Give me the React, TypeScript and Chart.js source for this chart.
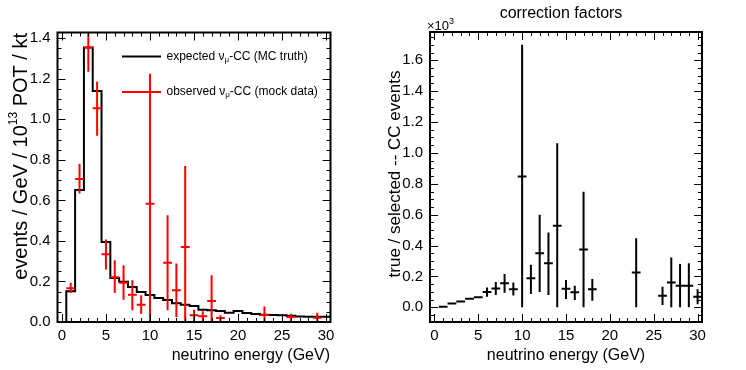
import React, { useEffect, useRef } from "react";
import { Chart, registerables } from "chart.js";
Chart.register(...registerables);

const FONT = '"Liberation Sans", Arial, Helvetica, sans-serif';

// ---------- data ----------
// expected (MC truth) histogram, bins centred on 1..30 GeV, width 1 GeV
const binCenters = [1,2,3,4,5,6,7,8,9,10,11,12,13,14,15,16,17,18,19,20,21,22,23,24,25,26,27,28,29,30];
const expectedRate = [0.152,0.651,1.354,1.14,0.395,0.217,0.198,0.173,0.148,0.133,0.119,0.108,0.092,0.085,0.079,0.061,0.058,0.054,0.046,0.054,0.044,0.040,0.036,0.034,0.033,0.031,0.027,0.026,0.026,0.026];

// observed (mock data)
const obsEnergy = [1,2,3,4,5,6,7,8,9,10,12,13,14,15,16,17,18,23,26,29];
const obsRate   = [0.167,0.705,1.354,1.054,0.334,0.221,0.194,0.134,0.085,0.583,0.292,0.156,0.370,0.033,0.028,0.104,0.020,0.035,0.025,0.021];
const obsLow    = [0.143,0.634,1.235,0.919,0.259,0.143,0.110,0.058,0.041,0.0,0.058,0.025,0.0,0.0,0.0,0.0,0.0,0.0,0.0,0.0];
const obsHigh   = [0.193,0.780,1.474,1.185,0.407,0.305,0.280,0.206,0.132,1.224,0.527,0.288,0.770,0.061,0.053,0.230,0.033,0.077,0.041,0.046];

// correction factors (x10^3)
const corrEnergy = [1,2,3,4,5,6,7,8,9,10,11,12,13,14,15,16,17,18,23,26,27,28,29,30];
const corrValue  = [0.004,0.025,0.037,0.056,0.065,0.100,0.122,0.156,0.117,0.847,0.188,0.350,0.285,0.529,0.120,0.097,0.375,0.117,0.226,0.075,0.161,0.140,0.140,0.068];
const corrLow    = [0.004,0.025,0.037,0.056,0.062,0.069,0.080,0.095,0.076,0.0,0.086,0.100,0.080,0.0,0.054,0.048,0.0,0.043,0.0,0.015,0.0,0.0,0.0,0.020];
const corrHigh   = [0.004,0.025,0.037,0.056,0.068,0.128,0.164,0.216,0.160,1.700,0.276,0.600,0.484,1.063,0.177,0.140,0.748,0.183,0.447,0.134,0.322,0.281,0.285,0.117];

const xTickValues = [0,5,10,15,20,25,30];
const leftYTicks = [0,0.2,0.4,0.6,0.8,1.0,1.2,1.4];
const rightYTicks = [0,0.2,0.4,0.6,0.8,1.0,1.2,1.4,1.6];

// ---------- helpers ----------
function histogramPoints(centers: number[], vals: number[]) {
  const pts: any[] = [{ x: centers[0] - 0.5, y: 0 }];
  centers.forEach((c, i) => pts.push({ x: c - 0.5, y: vals[i] }));
  const last = centers.length - 1;
  pts.push({ x: centers[last] + 0.5, y: vals[last] });
  return pts;
}

function errorBarPoints(xs: number[], ys: number[], lo: number[], hi: number[]) {
  const pts: any[] = [];
  xs.forEach((x, i) => {
    pts.push({ x: x - 0.5, y: ys[i] }, { x: x + 0.5, y: ys[i] }, { x, y: null });
    if (hi[i] > lo[i]) pts.push({ x, y: lo[i] }, { x, y: hi[i] }, { x, y: null });
  });
  return pts;
}

type Part = { t: string; size: number; dy?: number };
function partsWidth(ctx: CanvasRenderingContext2D, parts: Part[]) {
  let w = 0;
  for (const p of parts) { ctx.font = `${p.size}px ${FONT}`; w += ctx.measureText(p.t).width; }
  return w;
}
function drawParts(ctx: CanvasRenderingContext2D, parts: Part[], x: number, y: number) {
  let cx = x;
  ctx.textBaseline = "middle";
  ctx.textAlign = "left";
  for (const p of parts) {
    ctx.font = `${p.size}px ${FONT}`;
    ctx.fillText(p.t, cx, y + (p.dy || 0));
    cx += ctx.measureText(p.t).width;
  }
}

const framePlugin = {
  id: "rootFrame",
  afterDatasetsDraw(chart: any, _args: any, opts: any) {
    const { ctx, chartArea: a, scales } = chart;
    const xs = scales.x, ys = scales.y;
    ctx.save();
    ctx.strokeStyle = "#000";
    ctx.lineWidth = 1;
    const majL = 8, minL = 4;
    const eps = 1e-6;
    const xStart = Math.ceil(xs.min / opts.xMinor - eps) * opts.xMinor;
    for (let v = xStart; v <= xs.max + eps; v += opts.xMinor) {
      const isMaj = Math.abs(v / opts.xMajor - Math.round(v / opts.xMajor)) < 1e-6;
      const L = isMaj ? majL : minL;
      const px = Math.round(xs.getPixelForValue(v)) + 0.5;
      ctx.beginPath();
      ctx.moveTo(px, a.bottom); ctx.lineTo(px, a.bottom - L);
      ctx.moveTo(px, a.top); ctx.lineTo(px, a.top + L);
      ctx.stroke();
    }
    const yStart = Math.ceil(ys.min / opts.yMinor - eps) * opts.yMinor;
    for (let v = yStart; v <= ys.max + eps; v += opts.yMinor) {
      const isMaj = Math.abs(v / opts.yMajor - Math.round(v / opts.yMajor)) < 1e-6;
      const L = isMaj ? majL : minL;
      const py = Math.round(ys.getPixelForValue(v)) + 0.5;
      ctx.beginPath();
      ctx.moveTo(a.left, py); ctx.lineTo(a.left + L, py);
      ctx.moveTo(a.right, py); ctx.lineTo(a.right - L, py);
      ctx.stroke();
    }
    ctx.lineWidth = 2;
    ctx.strokeRect(a.left, a.top, a.right - a.left, a.bottom - a.top);
    ctx.restore();
  },
  afterDraw(chart: any, _args: any, opts: any) {
    if (opts.draw) opts.draw(chart.ctx, chart);
  },
};

function drawLeftDecor(ctx: CanvasRenderingContext2D) {
  ctx.save();
  ctx.fillStyle = "#000";
  const yParts: Part[] = [
    { t: "events / GeV / 10", size: 20 },
    { t: "13", size: 12, dy: -7 },
    { t: " POT / kt", size: 20 },
  ];
  const w = partsWidth(ctx, yParts);
  ctx.translate(21, 33);
  ctx.rotate(-Math.PI / 2);
  drawParts(ctx, yParts, -w, 0);
  ctx.setTransform(1, 0, 0, 1, 0, 0);
  ctx.font = `16px ${FONT}`;
  ctx.textAlign = "right";
  ctx.textBaseline = "middle";
  ctx.fillText("neutrino energy (GeV)", 330, 356);
  // legend
  ctx.lineWidth = 2;
  ctx.strokeStyle = "#000";
  ctx.beginPath(); ctx.moveTo(122, 56.5); ctx.lineTo(161, 56.5); ctx.stroke();
  drawParts(ctx, [
    { t: "expected \u03bd", size: 12 },
    { t: "\u03bc", size: 8, dy: 3 },
    { t: "-CC (MC truth)", size: 12 },
  ], 166.5, 56.5);
  ctx.strokeStyle = "#ff0000";
  ctx.beginPath(); ctx.moveTo(122, 92); ctx.lineTo(161, 92); ctx.stroke();
  ctx.fillStyle = "#000";
  drawParts(ctx, [
    { t: "observed \u03bd", size: 12 },
    { t: "\u03bc", size: 8, dy: 3 },
    { t: "-CC (mock data)", size: 12 },
  ], 166.5, 92);
  ctx.restore();
}

function drawRightDecor(ctx: CanvasRenderingContext2D) {
  ctx.save();
  ctx.fillStyle = "#000";
  ctx.font = `16px ${FONT}`;
  ctx.textAlign = "center";
  ctx.textBaseline = "middle";
  ctx.fillText("correction factors", 188, 14);
  ctx.fillText("neutrino energy (GeV)", 193, 356);
  ctx.translate(22, 174);
  ctx.rotate(-Math.PI / 2);
  ctx.font = `17px ${FONT}`;
  ctx.fillText("true / selected -- CC events", 0, 0);
  ctx.setTransform(1, 0, 0, 1, 0, 0);
  ctx.textAlign = "left";
  ctx.textBaseline = "alphabetic";
  ctx.font = `13px ${FONT}`;
  ctx.fillText("\u00d710", 54, 30);
  const w = ctx.measureText("\u00d710").width;
  ctx.font = `9px ${FONT}`;
  ctx.fillText("3", 54 + w, 24);
  ctx.restore();
}

function makeOptions(o: {
  padRight: number; top: number; yWidth: number; yMin: number; yMax: number; yTicks: number[]; draw: any;
}): any {
  return {
    animation: false,
    responsive: false,
    maintainAspectRatio: false,
    events: [],
    layout: { padding: { left: 0, right: o.padRight, top: o.top, bottom: 0 } },
    plugins: {
      legend: { display: false },
      tooltip: { enabled: false },
      title: { display: false },
      rootFrame: { xMajor: 5, xMinor: 1, yMajor: 0.2, yMinor: 0.05, draw: o.draw },
    },
    elements: { point: { radius: 0 }, line: { tension: 0 } },
    scales: {
      x: {
        type: "linear",
        min: -0.5,
        max: 30.5,
        grid: { display: false, drawTicks: false },
        border: { display: false },
        ticks: { color: "#000", font: { family: FONT, size: 15 }, padding: 5, maxRotation: 0, autoSkip: false },
        afterBuildTicks: (s: any) => { s.ticks = xTickValues.map((v) => ({ value: v })); },
        afterFit: (s: any) => { s.height = 48; },
      },
      y: {
        type: "linear",
        min: o.yMin,
        max: o.yMax,
        grid: { display: false, drawTicks: false },
        border: { display: false },
        ticks: {
          color: "#000", font: { family: FONT, size: 15 }, padding: 7, autoSkip: false,
          callback: (v: any) => Number(v).toFixed(1),
        },
        afterBuildTicks: (s: any) => { s.ticks = o.yTicks.map((v) => ({ value: v })); },
        afterFit: (s: any) => { s.width = o.yWidth; },
      },
    },
  };
}

export default function App() {
  const leftRef = useRef<HTMLCanvasElement>(null);
  const rightRef = useRef<HTMLCanvasElement>(null);

  useEffect(() => {
    const left = new Chart(leftRef.current as HTMLCanvasElement, {
      type: "line",
      data: {
        datasets: [
          {
            label: "observed",
            data: errorBarPoints(obsEnergy, obsRate, obsLow, obsHigh),
            borderColor: "#ff0000",
            borderWidth: 2,
            spanGaps: false,
            pointRadius: 0,
            borderCapStyle: "butt",
          },
          {
            label: "expected",
            data: histogramPoints(binCenters, expectedRate),
            borderColor: "#000",
            borderWidth: 2,
            stepped: "before",
            pointRadius: 0,
          },
        ],
      } as any,
      options: makeOptions({ padRight: 373 - 330.5, top: 32.5, yWidth: 57.5, yMin: 0, yMax: 1.428, yTicks: leftYTicks, draw: drawLeftDecor }),
      plugins: [framePlugin as any],
    });
    const right = new Chart(rightRef.current as HTMLCanvasElement, {
      type: "line",
      data: {
        datasets: [
          {
            label: "correction",
            data: errorBarPoints(corrEnergy, corrValue, corrLow, corrHigh),
            borderColor: "#000",
            borderWidth: 2,
            spanGaps: false,
            pointRadius: 0,
          },
        ],
      } as any,
      options: makeOptions({ padRight: 373 - 329, top: 32, yWidth: 57, yMin: -0.095, yMax: 1.783, yTicks: rightYTicks, draw: drawRightDecor }),
      plugins: [framePlugin as any],
    });
    return () => { left.destroy(); right.destroy(); };
  }, []);

  return (
    <div style={{ position: "absolute", left: 0, top: 0, width: 746, height: 370, background: "#fff", display: "flex" }}>
      <canvas ref={leftRef} width={373} height={370} style={{ width: 373, height: 370, display: "block" }} />
      <canvas ref={rightRef} width={373} height={370} style={{ width: 373, height: 370, display: "block" }} />
    </div>
  );
}
